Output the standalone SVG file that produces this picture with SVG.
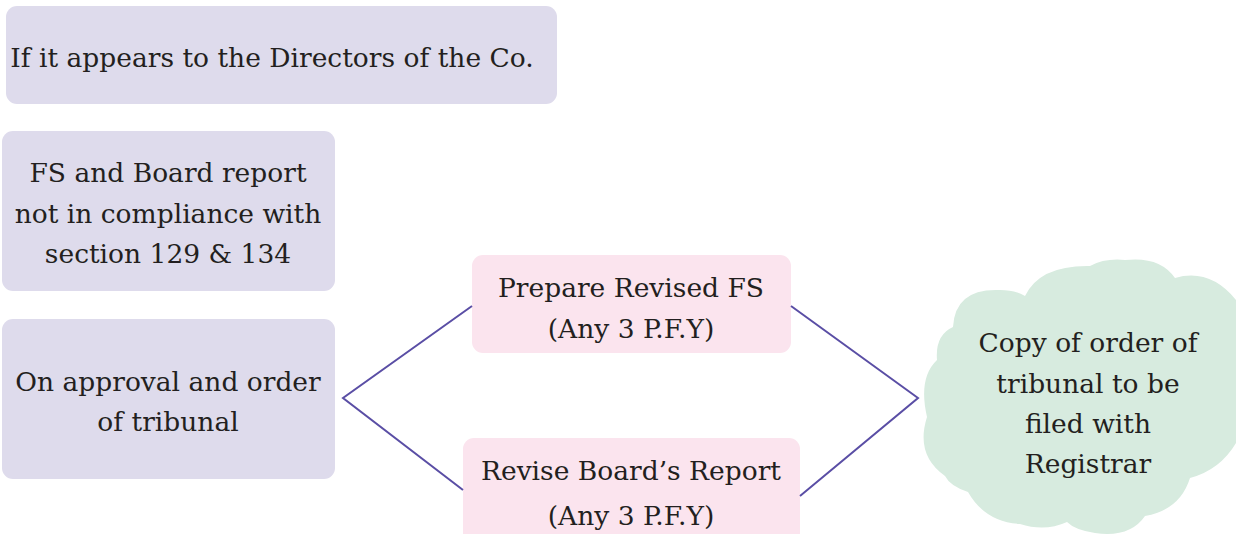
<svg xmlns="http://www.w3.org/2000/svg" width="1236" height="534" viewBox="0 0 1236 534">
  <style>
    .lav { fill: #dedbec; }
    .pink { fill: #fbe4ee; }
    .cloud { fill: #d7ebdf; }
    .lbl { font-family: "DejaVu Serif", "Liberation Serif", serif; font-size: 26.5px; fill: #231f20; text-anchor: middle; }
    .conn { fill: none; stroke: #5a4ea5; stroke-width: 2; stroke-linejoin: miter; }
  </style>
  <rect width="1236" height="534" fill="#ffffff"/>

  <g id="directors">
    <rect class="lav" x="6" y="6" width="551" height="98" rx="11"/>
    <text class="lbl" x="272" y="67">If it appears to the Directors of the Co.</text>
  </g>

  <g id="non-compliance">
    <rect class="lav" x="2" y="131" width="333" height="160" rx="11"/>
    <text class="lbl" x="168" y="182">FS and Board report</text>
    <text class="lbl" x="168" y="223">not in compliance with</text>
    <text class="lbl" x="168" y="263">section 129 &amp; 134</text>
  </g>

  <g id="tribunal-approval">
    <rect class="lav" x="2" y="319" width="333" height="160" rx="11"/>
    <text class="lbl" x="168" y="391">On approval and order</text>
    <text class="lbl" x="168" y="431">of tribunal</text>
  </g>

  <g id="revised-fs">
    <rect class="pink" x="472" y="255" width="319" height="98" rx="11"/>
    <text class="lbl" x="631" y="297">Prepare Revised FS</text>
    <text class="lbl" x="631" y="338">(Any 3 P.F.Y)</text>
  </g>

  <g id="revised-report">
    <rect class="pink" x="463" y="438" width="337" height="110" rx="11"/>
    <text class="lbl" x="631" y="480">Revise Board’s Report</text>
    <text class="lbl" x="631" y="525">(Any 3 P.F.Y)</text>
  </g>

  <g id="registrar">
    <path class="cloud" d="M 953 327
      Q 955 288 1000 290
      Q 1015 290 1025 296
      Q 1040 265 1090 266
      Q 1105 258 1125 260
      Q 1160 256 1175 278
      Q 1210 268 1236 300
      L 1245 300 L 1245 440 L 1236 443
      Q 1220 470 1190 478
      Q 1180 510 1145 516
      Q 1130 538 1095 533
      Q 1075 530 1067 522
      Q 1045 532 1020 524
      Q 985 522 968 492
      Q 950 486 945 476
      Q 915 455 927 417
      Q 918 378 937 360
      Q 935 335 953 327 Z"/>
    <text class="lbl" x="1088" y="352">Copy of order of</text>
    <text class="lbl" x="1088" y="393">tribunal to be</text>
    <text class="lbl" x="1088" y="433">filed with</text>
    <text class="lbl" x="1088" y="473">Registrar</text>
  </g>

  <g id="connectors">
    <polyline class="conn" points="472,306 343,398 463,490"/>
    <polyline class="conn" points="791,306 918,398 800,496"/>
  </g>
</svg>
